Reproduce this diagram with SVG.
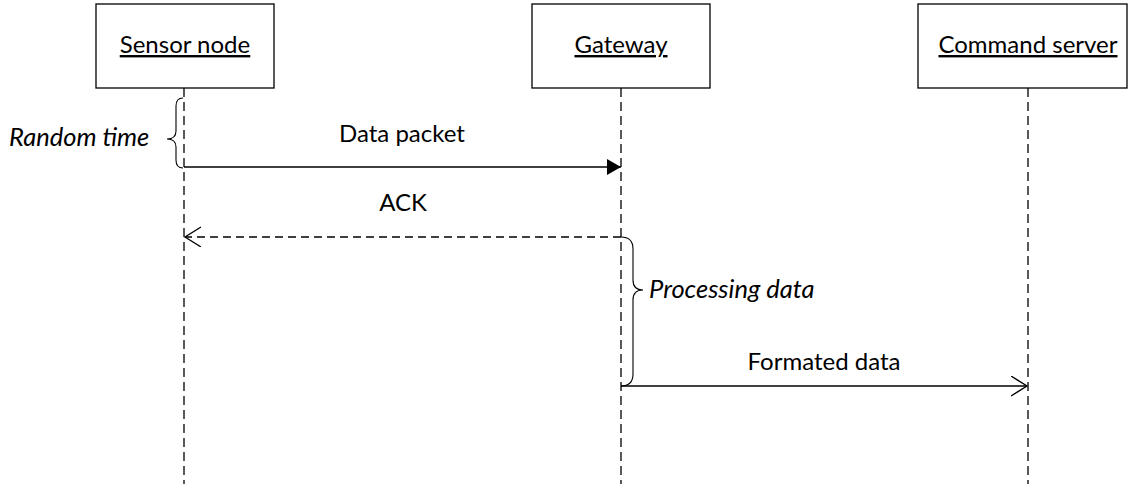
<svg xmlns="http://www.w3.org/2000/svg" width="1130" height="490" viewBox="0 0 1130 490">
  <style>
    .box { fill: #ffffff; stroke: #000000; stroke-width: 1.3; }
    .label { font-family: Lato, "Open Sans", "Liberation Sans", sans-serif; font-size: 24px; fill: #000000; }
    .title { text-decoration: underline; text-anchor: middle; }
    .note { font-style: italic; font-size: 25.5px; }
    .life { stroke: #000000; stroke-width: 1.3; stroke-dasharray: 9 5; fill: none; }
    .msg { stroke: #000000; stroke-width: 1.3; fill: none; }
    .reply { stroke: #000000; stroke-width: 1.3; stroke-dasharray: 8 5; fill: none; }
    .brace { stroke: #000000; stroke-width: 1.1; fill: none; }
  </style>
  <defs>
    <marker id="solidHead" markerWidth="16" markerHeight="18" refX="14" refY="8" orient="auto" markerUnits="userSpaceOnUse">
      <path d="M0,0 L14,8 L0,16 Z" fill="#000000"/>
    </marker>
    <marker id="openHead" markerWidth="18" markerHeight="22" refX="16" refY="10" orient="auto" markerUnits="userSpaceOnUse">
      <path d="M0,0 L16,10 L0,20" fill="none" stroke="#000000" stroke-width="1.3"/>
    </marker>
  </defs>

  <rect width="1130" height="490" fill="#ffffff"/>

  <!-- lifelines -->
  <g id="lifelines">
    <line class="life" x1="184" y1="88" x2="184" y2="484"/>
    <line class="life" x1="621" y1="88" x2="621" y2="484"/>
    <line class="life" x1="1028" y1="88" x2="1028" y2="484"/>
  </g>

  <!-- participants -->
  <g id="sensor-node">
    <rect class="box" x="96" y="4" width="178" height="84"/>
    <text class="label title" x="185" y="53">Sensor node</text>
  </g>
  <g id="gateway">
    <rect class="box" x="532" y="4" width="178" height="84"/>
    <text class="label title" x="621" y="53">Gateway</text>
  </g>
  <g id="command-server">
    <rect class="box" x="918" y="4" width="209" height="84"/>
    <text class="label title" x="1028" y="53">Command server</text>
  </g>

  <!-- messages -->
  <g id="connectors">
    <line class="msg" x1="184" y1="167" x2="621" y2="167" marker-end="url(#solidHead)"/>
    <line class="reply" x1="621" y1="237" x2="185" y2="237" marker-end="url(#openHead)"/>
    <line class="msg" x1="621" y1="386" x2="1027" y2="386" marker-end="url(#openHead)"/>
  </g>
  <g id="message-labels">
    <text class="label" x="402" y="142" text-anchor="middle">Data packet</text>
    <text class="label" x="403" y="211" text-anchor="middle">ACK</text>
    <text class="label" x="824" y="370" text-anchor="middle">Formated data</text>
  </g>

  <!-- time annotations -->
  <g id="random-time">
    <path class="brace" d="M183,98 Q176,98 176,106 L176,131 Q176,139 167,139 Q176,139 176,147 L176,160 Q176,168 183,168"/>
    <text class="label note" x="9" y="146">Random time</text>
  </g>
  <g id="processing-data">
    <path class="brace" d="M621,237 Q633,237 633,249 L633,280 Q633,290 643,290 Q633,290 633,300 L633,374 Q633,386 621,386"/>
    <text class="label note" x="649" y="298">Processing data</text>
  </g>
</svg>
